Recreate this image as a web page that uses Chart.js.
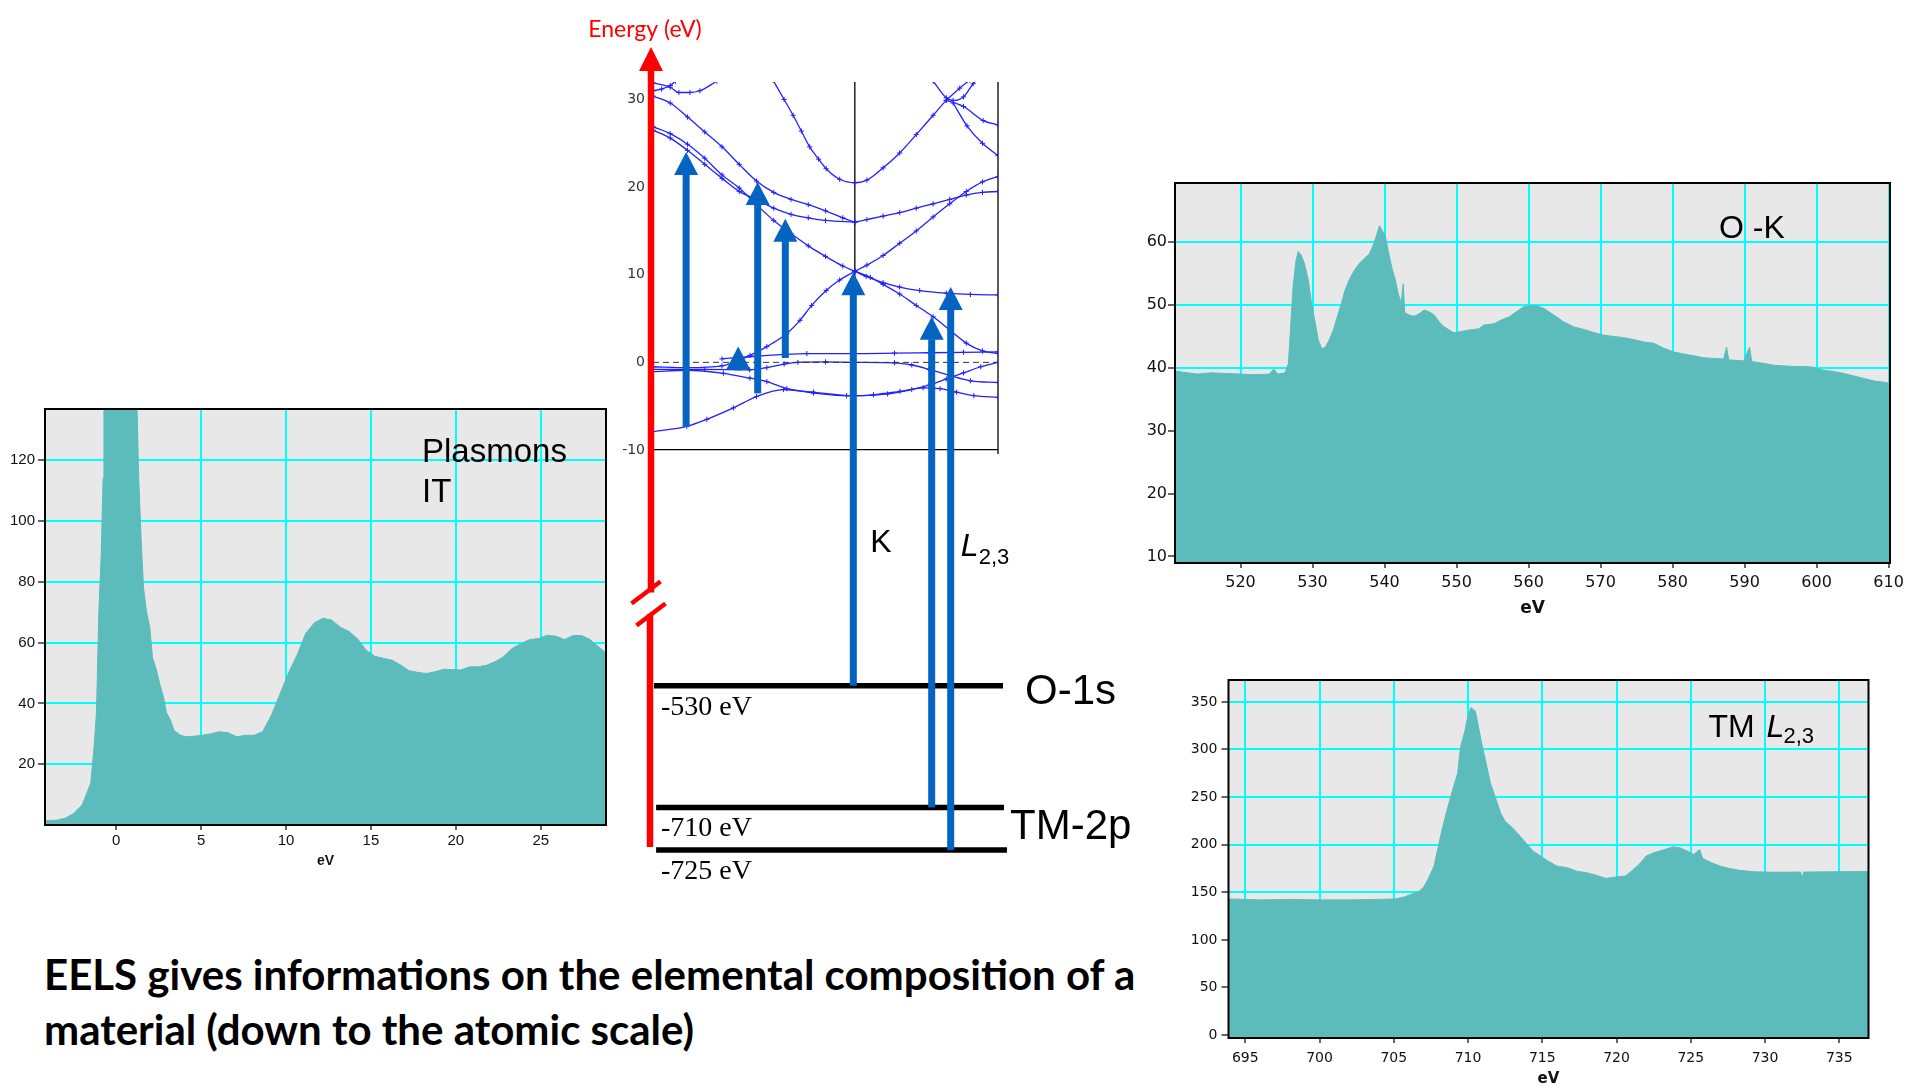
<!DOCTYPE html>
<html lang="en">
<head>
<meta charset="utf-8">
<title>EELS</title>
<script src="https://cdn.jsdelivr.net/npm/chart.js@4.4.1/dist/chart.umd.min.js"></script>
<style>
  html, body { margin: 0; padding: 0; background: #fff; }
  #page { position: relative; width: 1911px; height: 1088px; overflow: hidden; background: #fff; }
  #page canvas { position: absolute; }
  #caption { position: absolute; left: 44px; top: 947px; margin: 0; font: 700 42px/55px Lato, "Open Sans", sans-serif; color: #000; white-space: nowrap; }
</style>
</head>
<body>
<div id="page">
  <canvas id="plasmonChart" width="640" height="510" style="left:0;top:380px"></canvas>
  <canvas id="bandChart" width="600" height="900" style="left:560px;top:0"></canvas>
  <canvas id="oxygenChart" width="791" height="480" style="left:1120px;top:150px"></canvas>
  <canvas id="metalChart" width="751" height="448" style="left:1160px;top:640px"></canvas>
  <p id="caption">EELS gives informations on the elemental composition of a<br>material (down to the atomic scale)</p>
</div>
<script>
// ---------------- Low-loss spectrum: plasmons ----------------
const plasmonEnergy = [
  -4.19, -3.5, -3.0, -2.5, -2.0, -1.5, -1.28, -1.16, -1.02, -0.88,
  -0.77, -0.72, -0.5, -0.25, 0, 0.25, 0.5, 0.75, 1.0, 1.23,
  1.33, 1.47, 1.61, 1.79, 1.98, 2.14, 2.37, 2.56, 2.79, 2.96,
  3.19, 3.42, 3.77, 4.06, 4.56, 5.07, 5.58, 6.09, 6.6, 7.1,
  7.6, 8.12, 8.63, 9.13, 9.64, 10.15, 10.66, 11.16, 11.67, 12.18,
  12.69, 13.2, 13.7, 14.2, 14.72, 15.22, 15.73, 16.24, 16.75, 17.25,
  17.76, 18.27, 18.78, 19.28, 19.79, 20.3, 20.8, 21.3, 21.8, 22.3,
  22.8, 23.3, 23.85, 24.36, 24.87, 25.37, 25.88, 26.4, 26.9, 27.4,
  27.9, 28.4, 28.84
];
const plasmonCounts = [
  1.4, 1.6, 2.2, 3.8, 6.6, 13.7, 27, 37, 70, 89,
  114, 140, 175, 200, 210, 205, 190, 170, 150, 137,
  114, 94, 78, 70, 65, 55, 51, 46.5, 42, 37,
  34.5, 31, 29.6, 29, 29.2, 29.5, 30, 30.7, 30.3, 29,
  29.5, 29.5, 30.7, 36, 43, 50, 56, 63, 66.5, 68,
  67.4, 65, 63.7, 61.3, 57.5, 55.5, 54.8, 54.2, 52.6, 50.7,
  50.2, 49.8, 50.4, 51.2, 51.1, 51, 52, 52, 52.5, 53.7,
  55.3, 58, 59.7, 61, 61.3, 62.4, 62.1, 61, 62.3, 62.3,
  61, 58.6, 56.6
];
const plasmonXTicks = [0, 5, 10, 15, 20, 25];
const plasmonYTicks = [20, 40, 60, 80, 100, 120];

// ---------------- Core-loss spectrum: O K edge ----------------
const oxygenEnergy = [
  510.9, 512, 514, 516, 518, 520, 522, 524, 524.6, 525.2,
  526.2, 526.65, 526.9, 527.3, 527.7, 528.0, 528.4, 528.9, 529.4, 529.9,
  530.4, 530.8, 531.3, 531.8, 532.3, 532.9, 533.4, 534.0, 534.5, 535.1,
  535.8, 536.5, 537.2, 537.9, 538.6, 539.3, 539.6, 540.1, 540.5, 541.0,
  541.5, 541.9, 542.3, 542.6, 542.8, 543.4, 544.1, 544.8, 545.5, 546.2,
  546.9, 547.6, 548.3, 549.0, 549.6, 550.3, 551.7, 553.1, 553.8, 555.2,
  556.2, 557.3, 558.3, 559.3, 560.4, 561.1, 562.2, 563.5, 564.9, 566.3,
  567.7, 569.1, 570.4, 571.8, 573.2, 574.6, 576.0, 577.4, 578.8, 580.2,
  581.6, 583.0, 584.3, 585.7, 587.1, 587.5, 587.8, 588.5, 589.9, 590.7,
  591.0, 592.7, 594.1, 595.5, 596.9, 598.3, 599.6, 601.0, 602.4, 603.8,
  605.2, 606.6, 608.0, 609.4, 610.2
];
const oxygenCounts = [
  39.5, 39.3, 39.0, 39.2, 39.1, 39.0, 38.9, 39.0, 39.8, 39.0,
  39.2, 40.7, 45.4, 52.9, 57.0, 58.5, 58.0, 56.5, 54.0, 50.0,
  47.0, 44.4, 43.0, 43.3, 44.4, 46.0, 48.0, 50.2, 52.3, 54.0,
  55.5, 56.6, 57.4, 58.1, 60.0, 62.6, 62.0, 61.0, 58.7, 56.0,
  54.0, 51.8, 50.3, 53.4, 48.8, 48.4, 48.2, 48.6, 49.2, 48.9,
  48.4, 47.3, 46.5, 46.0, 45.6, 45.7, 46.0, 46.2, 46.8, 47.0,
  47.6, 48.1, 48.9, 49.7, 49.9, 49.9, 49.4, 48.4, 47.3, 46.5,
  46.1, 45.6, 45.2, 45.0, 44.8, 44.5, 44.1, 43.9, 43.1, 42.5,
  42.2, 41.9, 41.6, 41.5, 41.4, 43.3, 41.3, 41.2, 41.1, 43.3,
  41.0, 40.7, 40.4, 40.3, 40.2, 40.2, 40.1, 39.6, 39.4, 39.1,
  38.7, 38.3, 37.9, 37.7, 37.5
];
const oxygenXTicks = [520, 530, 540, 550, 560, 570, 580, 590, 600, 610];
const oxygenYTicks = [10, 20, 30, 40, 50, 60];

// ---------------- Core-loss spectrum: TM L2,3 edge ----------------
const metalEnergy = [
  693.87, 696, 698, 700, 702, 704, 705.1, 705.7, 706.2, 706.7,
  707.0, 707.3, 707.7, 708.0, 708.3, 708.6, 708.9, 709.3, 709.5, 709.8,
  710.0, 710.2, 710.5, 710.7, 710.9, 711.2, 711.5, 711.9, 712.2, 712.5,
  713.0, 713.5, 714.0, 714.4, 714.9, 715.4, 716.0, 716.7, 717.3, 718.0,
  718.6, 719.3, 719.9, 720.6, 721.0, 721.5, 722.0, 722.5, 723.1, 723.8,
  724.3, 724.8, 725.2, 725.6, 725.8, 726.4, 727.0, 727.7, 728.3, 729.3,
  730.6, 732.4, 732.5, 732.6, 734.5, 736.97
];
const metalCounts = [
  143, 142, 142.5, 142, 142, 142.5, 143, 145, 148, 151,
  155, 163.5, 177, 198, 219, 237, 254, 275, 303, 320,
  336, 344, 340, 324, 308, 287, 265, 247, 233, 224.6,
  217.6, 209, 200, 193, 188, 182.7, 177.4, 175.7, 172.2, 170.5,
  168, 164.5, 166, 167, 172, 179, 188, 191.4, 194.2, 197.7,
  196.6, 193, 189.7, 195, 185.5, 181, 177.4, 174.6, 173, 171.5,
  171, 171.2, 164, 171.2, 171.5, 171.8
];
const metalXTicks = [695, 700, 705, 710, 715, 720, 725, 730, 735];
const metalYTicks = [0, 50, 100, 150, 200, 250, 300, 350];

// ---------------- Band structure: [k along the path, E in eV] ----------------
const bandTicks = [-10, 0, 10, 20, 30];
const symmetryPoints = [0.585, 1];
const bandTopLeftA = [[0, 31.9], [0.05, 31.4], [0.075, 30.8], [0.107, 30.8], [0.136, 31.0], [0.185, 32.1]];
const bandTopLeftB = [[0, 31.0], [0.025, 31.2], [0.05, 31.6], [0.065, 32.1]];
const bandUpperLeft = [[0, 30.4], [0.05, 29.6], [0.1, 28.0], [0.15, 26.3], [0.2, 24.6], [0.25, 22.6], [0.3, 20.7], [0.35, 19.4], [0.4, 18.6], [0.45, 18.0], [0.5, 17.3], [0.55, 16.5], [0.585, 16.0]];
const bandMidLeftA = [[0, 26.9], [0.05, 26.1], [0.1, 24.9], [0.15, 23.3], [0.2, 21.4], [0.25, 19.9], [0.3, 18.0], [0.35, 16.2], [0.4, 14.7], [0.45, 13.3], [0.5, 12.1], [0.55, 11.0], [0.585, 10.4]];
const bandMidLeftB = [[0, 26.5], [0.05, 25.6], [0.1, 24.2], [0.15, 22.6], [0.2, 21.0], [0.25, 19.5], [0.3, 18.6], [0.35, 17.6], [0.4, 16.9], [0.45, 16.5], [0.5, 16.2], [0.585, 16.0]];
const bandParabola = [[0.348, 32.2], [0.38, 30.0], [0.406, 28.2], [0.43, 26.4], [0.454, 24.6], [0.48, 23.2], [0.502, 22.1], [0.541, 20.9], [0.585, 20.5], [0.62, 20.8], [0.667, 22.2], [0.715, 23.9], [0.763, 26.0], [0.812, 28.2], [0.85, 29.9], [0.889, 31.3], [0.918, 32.2]];
const bandRightA = [[0.585, 16.0], [0.62, 16.3], [0.667, 16.7], [0.715, 17.1], [0.763, 17.6], [0.812, 18.1], [0.86, 18.6], [0.908, 19.1], [0.955, 19.4], [1.0, 19.5]];
const bandRightB = [[0.585, 10.4], [0.62, 11.1], [0.667, 12.2], [0.715, 13.6], [0.763, 15.0], [0.812, 16.6], [0.86, 18.1], [0.908, 19.5], [0.955, 20.6], [1.0, 21.2]];
const bandRightC = [[0.585, 10.4], [0.618, 9.8], [0.667, 9.1], [0.715, 8.6], [0.773, 8.2], [0.85, 7.9], [0.92, 7.75], [1.0, 7.7]];
const bandRightD = [[0.585, 10.4], [0.63, 9.7], [0.667, 8.9], [0.715, 7.8], [0.763, 6.5], [0.812, 5.2], [0.86, 3.7], [0.908, 2.2], [0.955, 1.3], [1.0, 1.0]];
const bandRising = [[0, -0.5], [0.1, -0.6], [0.2, -0.4], [0.252, 0.3], [0.281, 0.8], [0.33, 1.8], [0.388, 3.3], [0.426, 4.8], [0.46, 6.5], [0.502, 8.2], [0.541, 9.4], [0.585, 10.4]];
const bandFlat = [[0.2, 0.4], [0.3, 0.7], [0.446, 1.0], [0.585, 1.0], [0.7, 1.05], [0.8, 1.1], [0.9, 1.15], [1.0, 1.2]];
const bandNearZero = [[0, -0.8], [0.15, -0.8], [0.28, -0.85], [0.33, -0.6], [0.38, -0.2], [0.42, 0], [0.5, 0.05], [0.585, 0], [0.7, -0.05], [0.75, -0.3], [0.8, -0.8], [0.86, -1.5], [0.92, -2.1], [1.0, -2.3]];
const bandLowerA = [[0, -1.05], [0.098, -0.9], [0.204, -1.25], [0.281, -1.8], [0.33, -2.2], [0.388, -3.0], [0.465, -3.4], [0.585, -3.8], [0.68, -3.6], [0.75, -3.1], [0.8, -2.6], [0.85, -1.9], [0.9, -1.2], [0.95, -0.5], [1.0, 0]];
const bandLowerB = [[0, -7.9], [0.098, -7.3], [0.156, -6.5], [0.233, -5.2], [0.3, -3.9], [0.378, -3.1], [0.465, -3.5], [0.561, -3.8], [0.639, -3.7], [0.716, -3.3], [0.783, -2.9], [0.832, -3.0], [0.88, -3.4], [0.93, -3.8], [1.0, -4.0]];
const bandTopRightU = [[0.812, 32.1], [0.85, 30.2], [0.87, 29.9], [0.9, 30.3], [0.928, 31.8], [0.94, 32.3]];
const bandTopRightA = [[0.85, 29.9], [0.9, 29.2], [0.957, 27.6], [1.0, 27.1]];
const bandTopRightB = [[0.87, 29.6], [0.91, 27.0], [0.955, 25.0], [1.0, 23.6]];
const bandLines = [bandTopLeftA, bandTopLeftB, bandUpperLeft, bandMidLeftA, bandMidLeftB, bandParabola,
  bandRightA, bandRightB, bandRightC, bandRightD, bandRising, bandFlat, bandNearZero, bandLowerA, bandLowerB,
  bandTopRightU, bandTopRightA, bandTopRightB];
const fermiLevel = [[0, 0], [1, 0]];

// Core levels (eV) and the transitions drawn as arrows
const coreLevelEnergies = [-530, -710, -725];
const coreLevelLabels = ['-530 eV', '-710 eV', '-725 eV'];
const coreLevelAxes = ['yO', 'yTM', 'yTM'];
const valenceTransitionK = [0.096, 0.3035, 0.3835, 0.247];
const valenceTransitionFrom = [-7.35, -3.54, 0.5, -0.9];
const valenceTransitionTo = [24.0, 20.6, 16.4, 1.8];
const coreTransitionK = [0.5806, 0.8078, 0.8629];
const coreTransitionLevel = [0, 1, 2];
const coreTransitionTo = [10.3, 5.2, 8.6];

// ---------------- styling ----------------
const TEAL = '#5cbcbc';
const CYAN = '#00ffff';
const PLOT_BG = '#e8e8e8';
const BAND_BLUE = '#2222ff';
const ARROW_BLUE = '#0563c1';
const AXIS_RED = '#ff0000';
Chart.defaults.font.family = '"Liberation Sans", Arial, sans-serif';

// light-grey plot field with a black frame, plus the panel caption
function framedPanel(drawCaption) {
  return {
    id: 'framedPanel',
    beforeDraw(chart) {
      const {ctx, chartArea: a} = chart;
      ctx.save();
      ctx.fillStyle = PLOT_BG;
      ctx.fillRect(a.left, a.top, a.right - a.left, a.bottom - a.top);
      ctx.restore();
    },
    afterDraw(chart) {
      const {ctx, chartArea: a} = chart;
      ctx.save();
      ctx.strokeStyle = '#000';
      ctx.lineWidth = 2;
      ctx.strokeRect(a.left, a.top, a.right - a.left, a.bottom - a.top);
      ctx.fillStyle = '#000';
      ctx.textBaseline = 'alphabetic';
      ctx.textAlign = 'left';
      drawCaption(ctx, a);
      ctx.restore();
    }
  };
}

function spectrum(canvasId, s) {
  const points = s.energy.map((e, i) => ({x: e, y: s.counts[i]}));
  return new Chart(document.getElementById(canvasId), {
    type: 'line',
    data: {datasets: [{data: points, fill: 'start', backgroundColor: TEAL, borderColor: TEAL,
      borderWidth: 1, pointRadius: 0, tension: 0}]},
    options: {
      responsive: false, animation: false, events: [],
      layout: {padding: s.padding},
      plugins: {legend: {display: false}, tooltip: {enabled: false}},
      scales: {
        x: {
          type: 'linear', min: s.xMin, max: s.xMax,
          afterBuildTicks: sc => { sc.ticks = s.xTicks.map(v => ({value: v})); },
          afterFit: sc => { sc.height = s.xAxisHeight; },
          grid: {color: CYAN, lineWidth: 2, tickLength: 5, tickColor: '#000', tickWidth: 1.2},
          border: {display: false},
          ticks: {autoSkip: false, maxRotation: 0, padding: s.xTickPad, color: '#111', font: s.tickFont},
          title: {display: true, text: 'eV', color: '#111', font: s.titleFont, padding: 0}
        },
        y: {
          type: 'linear', min: s.yMin, max: s.yMax,
          afterBuildTicks: sc => { sc.ticks = s.yTicks.map(v => ({value: v})); },
          afterFit: sc => { sc.width = s.yAxisWidth; },
          grid: {color: CYAN, lineWidth: 2, tickLength: 7, tickColor: '#000', tickWidth: 1.2},
          border: {display: false},
          ticks: {padding: s.yTickPad, color: '#111', font: s.tickFont}
        }
      }
    },
    plugins: [framedPanel(s.caption)]
  });
}

spectrum('plasmonChart', {
  energy: plasmonEnergy, counts: plasmonCounts, xTicks: plasmonXTicks, yTicks: plasmonYTicks,
  xMin: -4.19, xMax: 28.84, yMin: 0, yMax: 136.8,
  padding: {left: 0, right: 34, top: 29, bottom: 20}, yAxisWidth: 45, xAxisHeight: 45,
  xTickPad: 2, yTickPad: 3,
  tickFont: {family: '"Liberation Sans", Arial, sans-serif', size: 15},
  titleFont: {family: '"Liberation Sans", Arial, sans-serif', size: 14, weight: 'bold'},
  caption(ctx, a) {
    ctx.font = '33px "Liberation Sans", Arial, sans-serif';
    ctx.fillText('Plasmons', a.left + 377, a.top + 53);
    ctx.fillText('IT', a.left + 377, a.top + 93);
  }
});

spectrum('oxygenChart', {
  energy: oxygenEnergy, counts: oxygenCounts, xTicks: oxygenXTicks, yTicks: oxygenYTicks,
  xMin: 510.9, xMax: 610.2, yMin: 8.95, yMax: 69.4,
  padding: {left: 0, right: 21, top: 33, bottom: 11}, yAxisWidth: 55, xAxisHeight: 56,
  xTickPad: 5, yTickPad: 1,
  tickFont: {family: '"DejaVu Sans", Verdana, sans-serif', size: 16},
  titleFont: {family: '"DejaVu Sans", Verdana, sans-serif', size: 17, weight: 'bold'},
  caption(ctx, a) {
    ctx.font = '32px "Liberation Sans", Arial, sans-serif';
    ctx.fillText('O -K', a.left + 544, a.top + 55);
  }
});

spectrum('metalChart', {
  energy: metalEnergy, counts: metalCounts, xTicks: metalXTicks, yTicks: metalYTicks,
  xMin: 693.87, xMax: 736.97, yMin: -3.1, yMax: 373,
  padding: {left: 0, right: 42.5, top: 40, bottom: 0}, yAxisWidth: 68.5, xAxisHeight: 50,
  xTickPad: 7, yTickPad: 4,
  tickFont: {family: '"DejaVu Sans", Verdana, sans-serif', size: 14},
  titleFont: {family: '"DejaVu Sans", Verdana, sans-serif', size: 15, weight: 'bold'},
  caption(ctx, a) {
    ctx.font = '32px "Liberation Sans", Arial, sans-serif';
    ctx.fillText('TM', a.left + 480, a.top + 57);
    ctx.font = 'italic 32px "Liberation Sans", Arial, sans-serif';
    ctx.fillText('L', a.left + 538, a.top + 57);
    ctx.font = '22px "Liberation Sans", Arial, sans-serif';
    ctx.fillText('2,3', a.left + 555, a.top + 63);
  }
});

// ---------------- band diagram with core levels ----------------
function arrow(ctx, x, yFrom, yTo, shaft, headW, headL) {
  const baseY = yTo + headL;
  if (yFrom > baseY) ctx.fillRect(x - shaft / 2, baseY - 0.5, shaft, yFrom - baseY + 0.5);
  ctx.beginPath();
  ctx.moveTo(x, yTo);
  ctx.lineTo(x - headW / 2, baseY);
  ctx.lineTo(x + headW / 2, baseY);
  ctx.closePath();
  ctx.fill();
}

const levelLineStart = [0.003, 0.009, 0.009];
const levelLineEnd = [1.0145, 1.0174, 1.026];
const axisBreakEnergy = -500;

const bandDiagram = {
  id: 'bandDiagram',
  beforeDatasetsDraw(chart) {
    const {ctx, chartArea: a, scales: {x, yBand}} = chart;
    ctx.save();
    ctx.strokeStyle = '#000';
    ctx.lineWidth = 1.3;
    const yb = yBand.getPixelForValue(-10);
    symmetryPoints.forEach(k => {
      const px = x.getPixelForValue(k);
      ctx.beginPath();
      ctx.moveTo(px, yb + (k === 1 ? 4 : 0));
      ctx.lineTo(px, a.top);
      ctx.stroke();
    });
    ctx.restore();
  },
  afterDatasetsDraw(chart) {
    const {ctx, chartArea: a, scales} = chart;
    const {x, yBand, yO, yTM} = scales;
    ctx.save();

    // energy axis (red) with a break
    const ax = x.getPixelForValue(0) - 2;
    const apexY = a.top - 35, headBase = a.top - 12;
    const bottomY = yTM.getPixelForValue(-725) - 3;
    const br = yO.getPixelForValue(axisBreakEnergy);
    ctx.strokeStyle = AXIS_RED;
    ctx.fillStyle = AXIS_RED;
    ctx.lineWidth = 6.5;
    ctx.lineCap = 'butt';
    ctx.beginPath(); ctx.moveTo(ax, headBase); ctx.lineTo(ax, br - 10); ctx.stroke();
    ctx.beginPath(); ctx.moveTo(ax - 1, br + 12); ctx.lineTo(ax - 1, bottomY); ctx.stroke();
    ctx.beginPath();
    ctx.moveTo(ax, apexY); ctx.lineTo(ax - 12, headBase + 1); ctx.lineTo(ax + 12, headBase + 1);
    ctx.closePath(); ctx.fill();
    ctx.lineWidth = 4.5;
    [[ax - 5, br - 10], [ax, br + 12]].forEach(([cx, cy]) => {
      ctx.beginPath();
      ctx.moveTo(cx - 14.5, cy + 11); ctx.lineTo(cx + 14.5, cy - 11);
      ctx.stroke();
    });
    ctx.font = '23px Lato, "Open Sans", sans-serif';
    ctx.textAlign = 'center';
    ctx.textBaseline = 'alphabetic';
    ctx.fillText('Energy (eV)', ax - 6, apexY - 10);

    // transitions
    ctx.fillStyle = ARROW_BLUE;
    valenceTransitionK.forEach((k, i) => {
      arrow(ctx, x.getPixelForValue(k), yBand.getPixelForValue(valenceTransitionFrom[i]),
        yBand.getPixelForValue(valenceTransitionTo[i]), 7, 24, 23);
    });
    const levelPixel = i => scales[coreLevelAxes[i]].getPixelForValue(coreLevelEnergies[i]);
    coreTransitionK.forEach((k, i) => {
      arrow(ctx, x.getPixelForValue(k), levelPixel(coreTransitionLevel[i]),
        yBand.getPixelForValue(coreTransitionTo[i]), 7, 24, 23);
    });

    // labels
    ctx.fillStyle = '#000';
    ctx.textAlign = 'left';
    ctx.font = '28px "Liberation Serif", "Times New Roman", serif';
    coreLevelEnergies.forEach((E, i) => {
      ctx.fillText(coreLevelLabels[i], x.getPixelForValue(0) + 8, levelPixel(i) + 29);
    });
    ctx.font = '42px "Liberation Sans", Arial, sans-serif';
    ctx.fillText('O-1s', x.getPixelForValue(levelLineEnd[0]) + 22, levelPixel(0) + 18);
    ctx.fillText('TM-2p', x.getPixelForValue(levelLineEnd[1]) + 6, levelPixel(1) + 32);

    const edgeY = yO.getPixelForValue(-482);
    ctx.font = '32px "Liberation Sans", Arial, sans-serif';
    ctx.fillText('K', x.getPixelForValue(coreTransitionK[0]) + 17, edgeY);
    const lx = x.getPixelForValue(coreTransitionK[2]) + 10;
    ctx.font = 'italic 32px "Liberation Sans", Arial, sans-serif';
    ctx.fillText('L', lx, edgeY + 4);
    ctx.font = '22px "Liberation Sans", Arial, sans-serif';
    ctx.fillText('2,3', lx + 18, edgeY + 12);
    ctx.restore();
  }
};

const bandStyle = {
  showLine: true, borderColor: BAND_BLUE, borderWidth: 1.3, pointStyle: 'cross', pointRadius: 2.6,
  pointBorderWidth: 1, pointBorderColor: BAND_BLUE, cubicInterpolationMode: 'monotone',
  xAxisID: 'x', yAxisID: 'yBand'
};
const bandDatasets = bandLines.map(b => Object.assign({data: b.map(([k, e]) => ({x: k, y: e}))}, bandStyle));
const fermiDataset = {
  data: fermiLevel.map(([k, e]) => ({x: k, y: e})), showLine: true, borderColor: '#333', borderWidth: 1,
  borderDash: [6, 4], pointRadius: 0, xAxisID: 'x', yAxisID: 'yBand'
};
const levelDatasets = coreLevelEnergies.map((E, i) => ({
  data: [{x: levelLineStart[i], y: E}, {x: levelLineEnd[i], y: E}], showLine: true, borderColor: '#000',
  borderWidth: 5.5, pointRadius: 0, clip: false, xAxisID: 'x', yAxisID: coreLevelAxes[i]
}));

new Chart(document.getElementById('bandChart'), {
  type: 'scatter',
  data: {datasets: [fermiDataset, ...bandDatasets, ...levelDatasets]},
  options: {
    responsive: false, animation: false, events: [],
    layout: {padding: {left: 53, right: 162, top: 82, bottom: 20}},
    plugins: {legend: {display: false}, tooltip: {enabled: false}},
    scales: {
      x: {type: 'linear', min: 0, max: 1, display: false},
      y: {display: false},
      yBand: {
        type: 'linear', position: 'left', min: -59.08, max: 32,
        afterBuildTicks: sc => { sc.ticks = bandTicks.map(v => ({value: v})); },
        afterFit: sc => { sc.width = 40; },
        grid: {drawTicks: false, lineWidth: 1.3,
          color: c => (c.tick && c.tick.value === -10 ? '#000' : 'rgba(0,0,0,0)')},
        border: {display: false},
        ticks: {padding: 8, color: '#333', font: {family: '"DejaVu Sans", Verdana, sans-serif', size: 14}}
      },
      yO: {type: 'linear', display: false, min: -600, max: -312.5},
      yTM: {type: 'linear', display: false, min: -735.5, max: -455.2}
    }
  },
  plugins: [bandDiagram]
});
</script>
</body>
</html>
